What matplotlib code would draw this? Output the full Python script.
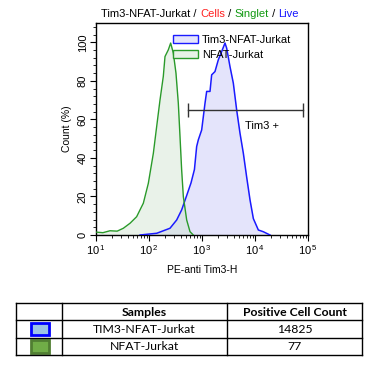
import math
import matplotlib
matplotlib.use("Agg")
import matplotlib.pyplot as plt
from matplotlib.patches import Rectangle
from matplotlib.ticker import LogLocator, NullFormatter, FixedLocator, MultipleLocator, FuncFormatter

plt.rcParams['font.family'] = ['Liberation Sans', 'DejaVu Sans']

# ---- data ----
tim3_x = [68, 140, 249, 333, 413, 514, 620, 720, 793, 853, 986, 1140, 1225, 1416, 1521, 1758,
          2032, 2350, 2716, 2917, 3373, 3899, 4508, 5212, 6026, 6966, 8054, 9311, 11560,
          14350, 19190]
tim3_y = [0, 0.9, 3.5, 7.8, 13, 20.5, 27, 34, 45.9, 49.4, 54.5, 68.4, 74.5, 74.5, 83.1, 84.8,
          90.9, 95.2, 99.6, 97, 87.4, 78.8, 64.9, 52.8, 42.4, 30, 18.2, 8.5, 2.6, 1.7, 0]

nfat_x = [10, 13.5, 18.4, 25.1, 32.8, 43.9, 58.5, 67.6, 78.2, 97.1, 120.8, 139.6, 161.4,
          186.2, 200.4, 231.7, 256.4, 287.7, 322.8, 357.3, 384.6, 413, 444.6, 514, 594.3, 685.5]
nfat_y = [1.5, 1.2, 2.2, 2.0, 3.5, 6.1, 9.5, 13, 16.5, 26.8, 42.4, 56.3, 70.1, 82.3, 92.6,
          96.1, 99.6, 94.4, 84, 68.4, 51.1, 33.8, 19.9, 7.8, 1.7, 0]

series_names = ["Tim3-NFAT-Jurkat", "NFAT-Jurkat"]
gate_range = [540, 80000]
gate_level = 65
gate_label = "Tim3 +"

title_parts = ["Tim3-NFAT-Jurkat / ", "Cells", " / ", "Singlet", " / ", "Live"]
title_colors = ["black", "#ff2020", "black", "#119911", "black", "#1515ff"]

table_header = ["", "Samples", "Positive Cell Count"]
table_samples = ["TIM3-NFAT-Jurkat", "NFAT-Jurkat"]
table_counts = ["14825", "77"]

x_ticks = [10, 100, 1000, 10000, 100000]
y_ticks = [0, 20, 40, 60, 80, 100]

# ---- figure ----
W, H = 368, 372
fig = plt.figure(figsize=(W / 100, H / 100), dpi=100)

def fx(px):
    return px / W

def fy(py):
    return 1 - py / H

ax = fig.add_axes([fx(96), fy(235), fx(308) - fx(96), fy(23) - fy(235)])
blue = "#1a1aff"
green = "#2a9a2a"
ax.fill_between(tim3_x, tim3_y, 0, color="#e4e4fb", zorder=1, lw=0)
ax.fill_between(nfat_x, nfat_y, 0, color="#cfe3cf", alpha=0.45, zorder=2, lw=0)
ax.plot(tim3_x, tim3_y, color=blue, lw=1.1, zorder=3)
ax.plot(nfat_x, nfat_y, color=green, lw=1.0, zorder=3)

ax.set_xscale("log")
ax.set_xlim(10, 100000)
ax.set_ylim(0, 110)
ax.xaxis.set_major_locator(FixedLocator(x_ticks))
ax.xaxis.set_major_formatter(FuncFormatter(lambda v, p: r"$\mathregular{10^{\,%d}}$" % round(math.log10(v))))
ax.xaxis.set_minor_locator(LogLocator(base=10, subs=range(2, 10)))
ax.xaxis.set_minor_formatter(NullFormatter())
ax.yaxis.set_major_locator(FixedLocator(y_ticks))
ax.yaxis.set_minor_locator(MultipleLocator(4))
ax.tick_params(axis="both", which="major", length=4, width=0.8, labelsize=8, pad=2)
ax.tick_params(axis="both", which="minor", length=2, width=0.6)
for lab in ax.get_yticklabels():
    lab.set_rotation(90)
    lab.set_va("center")
for s in ax.spines.values():
    s.set_linewidth(1.0)

ax.set_ylabel("Count (%)", fontsize=7.5, labelpad=4)
ax.set_xlabel("PE-anti Tim3-H", fontsize=7.5, labelpad=6)

# gate
ax.plot(gate_range, [gate_level, gate_level], color="#333333", lw=1.0, zorder=4)
ax.plot(gate_range, [gate_level, gate_level], ls="none", marker="|", markersize=10,
        markeredgewidth=1.0, color="#333333", zorder=4)
ax.text(10 ** ((math.log10(gate_range[0]) + math.log10(gate_range[1])) / 2 + 0.32),
        gate_level - 8.5, gate_label, fontsize=8, ha="center", va="center")

# legend
handles = [Rectangle((0, 0), 1, 1, facecolor="#e4e4fb", edgecolor=blue, lw=1.0),
           Rectangle((0, 0), 1, 1, facecolor="#e6f2e6", edgecolor=green, lw=1.0)]
ax.legend(handles, series_names, loc="upper left", bbox_to_anchor=(0.365, 0.945),
          frameon=False, fontsize=8, handlelength=2.2, handleheight=0.75,
          handletextpad=0.35, labelspacing=0.45, borderaxespad=0.0, borderpad=0.0)

# title with colored parts
fig.canvas.draw()
renderer = fig.canvas.get_renderer()
texts = []
for part, col in zip(title_parts, title_colors):
    t = fig.text(0, fy(14), part, color=col, fontsize=8, va="center", ha="left")
    texts.append(t)
widths = [t.get_window_extent(renderer).width for t in texts]
total = sum(widths)
x0 = 200 - total / 2
for t, w in zip(texts, widths):
    t.set_x(fx(x0))
    x0 += w

# table
tab = fig.add_axes([0, 0, 1, 1])
tab.set_xlim(0, W)
tab.set_ylim(H, 0)
tab.axis("off")
cols = [16, 62, 227, 362]
rows = [303, 320, 337.5, 355]
for xv in cols:
    tab.plot([xv, xv], [rows[0], rows[-1]], color="black", lw=1.0)
for yv in rows:
    tab.plot([cols[0], cols[-1]], [yv, yv], color="black", lw=1.0)
tfont = ['Lato', 'DejaVu Sans']
for j, h in enumerate(table_header):
    if h:
        tab.text((cols[j] + cols[j + 1]) / 2, (rows[0] + rows[1]) / 2 + 0.5, h,
                 ha="center", va="center", fontsize=8.8, fontweight="bold", family=tfont)
for i, (s, c) in enumerate(zip(table_samples, table_counts)):
    yc = (rows[i + 1] + rows[i + 2]) / 2 + 0.5
    tab.text((cols[1] + cols[2]) / 2, yc, s, ha="center", va="center", fontsize=8.8, family=tfont)
    tab.text((cols[2] + cols[3]) / 2, yc, c, ha="center", va="center", fontsize=8.8, family=tfont)
sw = [("#9dc3e6", "#0000ff", 2.0), ("#70ad47", "#507e32", 2.0)]
for i, (fc, ec, lw) in enumerate(sw):
    y_top = rows[i + 1] + 2.5
    tab.add_patch(Rectangle((31, y_top), 18, rows[i + 2] - rows[i + 1] - 5,
                            facecolor=fc, edgecolor=ec, lw=lw))

fig.savefig("out.png", dpi=100)
